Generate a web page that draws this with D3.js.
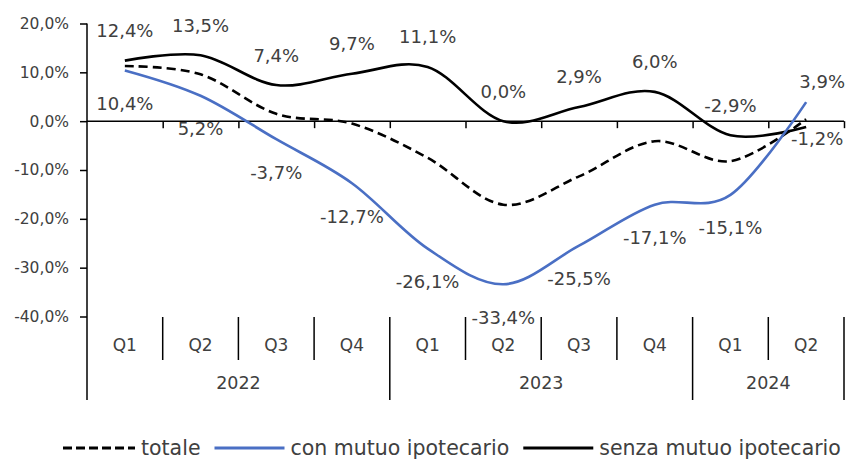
<!DOCTYPE html>
<html>
<head>
<meta charset="utf-8">
<script src="https://cdn.jsdelivr.net/npm/d3@7"></script>
<style>
  html, body { margin: 0; padding: 0; background: #fff; }
  svg { display: block; font-family: "DejaVu Sans", sans-serif; }
</style>
</head>
<body>
<svg id="chart" width="848" height="459"></svg>
<script>
// ---- data ----
const quarters = ["Q1", "Q2", "Q3", "Q4", "Q1", "Q2", "Q3", "Q4", "Q1", "Q2"];
const years = ["2022", "2023", "2024"];
const yearSpans = [4, 4, 2];
const totale = [11.3, 9.6, 1.5, -0.5, -7.5, -17.1, -11.3, -4.1, -8.2, 0.4];
const conMutuo = [10.4, 5.2, -3.7, -12.7, -26.1, -33.4, -25.5, -17.1, -15.1, 3.9];
const senzaMutuo = [12.4, 13.5, 7.4, 9.7, 11.1, 0.0, 2.9, 6.0, -2.9, -1.2];
const yTicks = [20, 10, 0, -10, -20, -30, -40];
const seriesNames = ["totale", "con mutuo ipotecario", "senza mutuo ipotecario"];
// label placement per point
const conLabelPos = ["below","below","below","below","below","below","below","below","below","aboveRight"];
const senzaLabelPos = ["above","above","above","above","above","above","above","above","above","belowRight"];

(function () {
// ---- layout ----
const svg = d3.select("#chart");
const mLeft = 87, mRight = 844, mTop = 23.5, mBottom = 316.5;
const labelBottom = 400;
const textColor = "#404040";
const blue = "#4a6fc4";

const idx = quarters.map((d, i) => i);
const x = d3.scaleBand().domain(idx).range([mLeft, mRight]).padding(0);
const cx = i => x(i) + x.bandwidth() / 2;
const y = d3.scaleLinear().domain([-40, 20]).range([mBottom, mTop]);
const fmt = v => d3.format(".1f")(v).replace(".", ",").replace("\u2212", "-") + "%";

// y axis
const yAxis = d3.axisLeft(y).tickValues(yTicks).tickSize(7).tickPadding(11).tickFormat(fmt);
const gy = svg.append("g").attr("transform", `translate(${mLeft},0)`).call(yAxis);
gy.select(".domain").remove();
gy.selectAll(".tick line").attr("stroke", "#000").attr("stroke-width", 1.5);
gy.selectAll(".tick text").attr("fill", textColor).style("font-size", "15.5px")
  .style("font-family", "DejaVu Sans, sans-serif");
svg.append("line").attr("x1", mLeft).attr("x2", mLeft).attr("y1", mTop).attr("y2", labelBottom)
  .attr("stroke", "#000").attr("stroke-width", 1.5);

// zero axis with boundary ticks
const boundaries = idx.map(i => x(i)).concat([mRight]);
const zeroAxis = d3.axisBottom(d3.scaleLinear().domain([mLeft, mRight]).range([mLeft, mRight]))
  .tickValues(boundaries.slice(1)).tickSize(7).tickFormat("");
const gz = svg.append("g").attr("transform", `translate(0,${y(0)})`).call(zeroAxis);
gz.select(".domain").attr("d", `M${mLeft},0H${mRight}`).attr("stroke", "#000").attr("stroke-width", 1.5);
gz.selectAll(".tick line").attr("stroke", "#000").attr("stroke-width", 1.5);

// category label area
const sepTop = 317, qSepBottom = 360;
let yearStarts = [0];
yearSpans.forEach((s, k) => yearStarts.push(yearStarts[k] + s));
const yearBoundaryIdx = new Set(yearStarts);
boundaries.forEach((bx, i) => {
  if (i === 0) return;
  const isYear = yearBoundaryIdx.has(i);
  svg.append("line").attr("x1", bx).attr("x2", bx).attr("y1", sepTop)
    .attr("y2", isYear ? labelBottom : qSepBottom)
    .attr("stroke", "#000").attr("stroke-width", 1.5);
});
svg.append("g").selectAll("text").data(quarters).join("text")
  .attr("x", (d, i) => cx(i)).attr("y", 345).attr("dy", "0.36em")
  .attr("text-anchor", "middle").attr("fill", textColor).style("font-size", "17px")
  .text(d => d);
svg.append("g").selectAll("text").data(years).join("text")
  .attr("x", (d, k) => (x(yearStarts[k]) + (yearStarts[k + 1] < quarters.length ? x(yearStarts[k + 1]) : mRight)) / 2)
  .attr("y", 383).attr("dy", "0.36em")
  .attr("text-anchor", "middle").attr("fill", textColor).style("font-size", "17.5px")
  .text(d => d);

// lines
const line = d3.line().x((d, i) => cx(i)).y(d => y(d)).curve(d3.curveCardinal.tension(0));
svg.append("path").datum(totale).attr("d", line).attr("fill", "none")
  .attr("stroke", "#000").attr("stroke-width", 2.6).attr("stroke-dasharray", "9,5");
svg.append("path").datum(senzaMutuo).attr("d", line).attr("fill", "none")
  .attr("stroke", "#000").attr("stroke-width", 2.6);
svg.append("path").datum(conMutuo).attr("d", line).attr("fill", "none")
  .attr("stroke", blue).attr("stroke-width", 2.6);

// data labels
const offsets = {
  above: [0, -30], below: [0, 33], aboveRight: [16, -21], belowRight: [11, 11]
};
function labels(values, pos) {
  svg.append("g").selectAll("text").data(values).join("text")
    .attr("x", (d, i) => cx(i) + offsets[pos[i]][0])
    .attr("y", (d, i) => y(d) + offsets[pos[i]][1])
    .attr("dy", "0.36em").attr("text-anchor", "middle")
    .attr("fill", textColor).style("font-size", "18px")
    .text(d => fmt(d));
}
labels(senzaMutuo, senzaLabelPos);
labels(conMutuo, conLabelPos);

// legend
const legY = 448;
const legStyles = [
  { stroke: "#000", dash: "9,4", w: 72 },
  { stroke: blue, dash: null, w: 70 },
  { stroke: "#000", dash: null, w: 70 }
];
let lx = 63;
seriesNames.forEach((name, k) => {
  const st = legStyles[k];
  svg.append("line").attr("x1", lx).attr("x2", lx + st.w).attr("y1", legY).attr("y2", legY)
    .attr("stroke", st.stroke).attr("stroke-width", 3)
    .attr("stroke-dasharray", st.dash);
  lx += st.w + 6;
  const t = svg.append("text").attr("x", lx).attr("y", legY).attr("dy", "0.36em")
    .attr("fill", textColor).style("font-size", "20.5px").text(name);
  lx += t.node().getComputedTextLength() + 14;
});
})();
</script>
</body>
</html>
